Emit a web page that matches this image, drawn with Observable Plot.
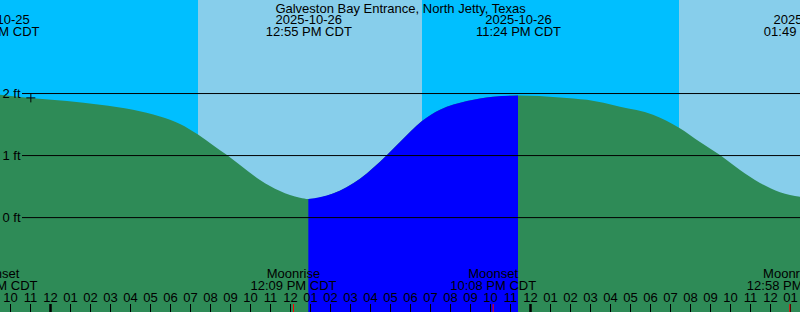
<!DOCTYPE html>
<html><head><meta charset="utf-8">
<script src="https://cdn.jsdelivr.net/npm/d3@7"></script>
<script src="https://cdn.jsdelivr.net/npm/@observablehq/plot@0.6"></script>
<style>html,body{margin:0;padding:0;background:#00BFFF}#chart svg{display:block}</style>
</head><body><div id="chart"></div>
<script>
const title = "Galveston Bay Entrance, North Jetty, Texas";

const curveTimes = [
  "2025-10-25T21:18","2025-10-25T23:00","2025-10-26T00:51","2025-10-26T02:30","2025-10-26T04:09",
  "2025-10-26T05:30","2025-10-26T06:30","2025-10-26T07:24","2025-10-26T08:09","2025-10-26T08:51",
  "2025-10-26T09:30","2025-10-26T10:30","2025-10-26T11:30","2025-10-26T12:30","2025-10-26T12:55",
  "2025-10-26T14:09","2025-10-26T15:30","2025-10-26T16:51","2025-10-26T17:30","2025-10-26T18:36",
  "2025-10-26T19:30","2025-10-26T20:51","2025-10-26T22:09","2025-10-26T23:24","2025-10-27T01:30",
  "2025-10-27T02:51","2025-10-27T04:30","2025-10-27T06:09","2025-10-27T07:27","2025-10-27T08:30",
  "2025-10-27T09:30","2025-10-27T10:30","2025-10-27T11:30","2025-10-27T12:30","2025-10-27T13:30",
  "2025-10-27T13:49"
];
const curveFeet = [
  1.98,1.92,1.87,1.81,1.73,
  1.62,1.50,1.33,1.16,1.00,
  0.84,0.60,0.42,0.31,0.29,
  0.38,0.62,1.00,1.21,1.55,
  1.73,1.87,1.94,1.96,1.93,
  1.89,1.78,1.65,1.44,1.21,
  1.00,0.76,0.55,0.40,0.33,
  0.32
];

const tideEventTimes = ["2025-10-25T21:18","2025-10-26T12:55","2025-10-26T23:24","2025-10-27T13:49"];
const tideEventKinds = ["High","Low","High","Low"];

const sunriseTimes = ["2025-10-26T07:24","2025-10-27T07:27"];
const sunsetTimes  = ["2025-10-26T18:36","2025-10-27T18:35"];

const moonEventTimes = ["2025-10-25T21:12","2025-10-26T12:09","2025-10-26T22:08","2025-10-27T12:58"];
const moonEventKinds = ["Moonset","Moonrise","Moonset","Moonrise"];

const gridFeet = [0, 1, 2];
const nowTime = "2025-10-25T23:01";
const nowFeet = 1.93;

const domainStart = "2025-10-25T21:30";
const domainEnd   = "2025-10-27T13:30";
const feetDomain  = [-1.53, 3.5];

const NIGHT = "#00BFFF", DAY = "#87CEEB", EBB = "#2E8B57", FLOOD = "#0000FF";

const parse = d3.utcParse("%Y-%m-%dT%H:%M");
const fmtDate = d3.utcFormat("%Y-%m-%d");
const fmtTime = d3.utcFormat("%I:%M %p CDT");
const fmtHour = d3.utcFormat("%I");

const t0 = parse(domainStart), t1 = parse(domainEnd);
const curve = curveTimes.map((s, i) => ({t: parse(s), ft: curveFeet[i]}));
const tides = tideEventTimes.map((s, i) => ({t: parse(s), kind: tideEventKinds[i]}));
const days = sunriseTimes.map((s, i) => ({rise: parse(s), set: parse(sunsetTimes[i])}));
const moons = moonEventTimes.map((s, i) => ({t: parse(s), kind: moonEventKinds[i]}));

// flood (rising) segments: from a Low to the following High
const flood = [];
tides.forEach((e, i) => {
  const n = tides[i + 1];
  if (e.kind === "Low" && n && n.kind === "High") {
    curve.filter(p => p.t >= e.t && p.t <= n.t).forEach(p => flood.push({...p, seg: i}));
  }
});

const hours = d3.utcHour.range(t0, t1);
const midnights = hours.filter(h => h.getUTCHours() === 0);
const others = hours.filter(h => h.getUTCHours() !== 0);

const plusSymbol = {
  draw(ctx, size) {
    const s = Math.sqrt(size / Math.PI);
    ctx.moveTo(-s, 0); ctx.lineTo(s, 0);
    ctx.moveTo(0, -s); ctx.lineTo(0, s);
  }
};

const chart = Plot.plot({
  width: 800, height: 312, margin: 0,
  x: {type: "utc", domain: [t0, t1], axis: null},
  y: {domain: feetDomain, axis: null},
  color: {type: "identity"},
  style: {fontFamily: "'Liberation Sans', Arial, sans-serif", fontSize: "13px", color: "black", background: NIGHT},
  marks: [
    Plot.frame({fill: NIGHT, stroke: "none"}),
    Plot.rect(days, {x1: "rise", x2: "set", fill: DAY, clip: true}),
    Plot.areaY(curve, {x: "t", y1: feetDomain[0], y2: "ft", fill: EBB, curve: "monotone-x", clip: true}),
    Plot.areaY(flood, {x: "t", y1: feetDomain[0], y2: "ft", z: "seg", fill: FLOOD, curve: "monotone-x", clip: true}),
    Plot.ruleY(gridFeet, {y: d => d, stroke: "black", insetLeft: 22}),
    Plot.text(gridFeet, {y: d => d, text: d => `${d} ft`, frameAnchor: "left", textAnchor: "start", dx: 2, lineAnchor: "middle"}),
    Plot.dot([{t: parse(nowTime), ft: nowFeet}], {x: "t", y: "ft", symbol: plusSymbol, r: 4.5, stroke: "black", fill: "none", strokeWidth: 1}),
    Plot.text([title], {text: d => d, frameAnchor: "top", lineAnchor: "top", dy: 3}),
    Plot.text(tides, {x: "t", text: d => fmtDate(d.t) + "\n" + fmtTime(d.t), frameAnchor: "top", lineAnchor: "top", dy: 15, lineHeight: 0.9}),
    Plot.text(moons, {x: "t", text: d => d.kind + "\n" + fmtTime(d.t), frameAnchor: "top", lineAnchor: "top", dy: 269, lineHeight: 0.9}),
    Plot.text(hours, {x: d => d, text: d => fmtHour(d), frameAnchor: "top", lineAnchor: "top", dy: 292.5}),
    Plot.ruleX(others, {x: d => d, insetTop: 304, stroke: "black", strokeWidth: 1}),
    Plot.ruleX(midnights, {x: d => d, insetTop: 304, stroke: "black", strokeWidth: 2.5}),
    Plot.ruleX(moons, {x: "t", insetTop: 304, stroke: "#FF0000", strokeWidth: 1})
  ]
});
document.getElementById("chart").append(chart);
</script>
</body></html>
